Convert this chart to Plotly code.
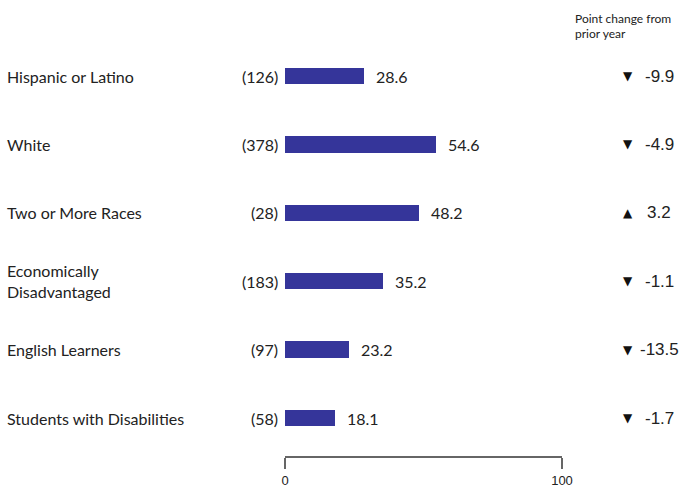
import plotly.graph_objects as go

categories = ["Hispanic or Latino", "White", "Two or More Races",
              "Economically<br>Disadvantaged", "English Learners", "Students with Disabilities"]
values = [28.6, 54.6, 48.2, 35.2, 23.2, 18.1]
counts = [126, 378, 28, 183, 97, 58]
changes = [-9.9, -4.9, 3.2, -1.1, -13.5, -1.7]
tick_vals = [0, 100]
tick_text = ["0", "100"]
header_lines = ["Point change from", "prior year"]

W, H = 680, 487
BAR = "#35359a"
TXT = "#222222"
FONT = "Lato"

fig = go.Figure()
fig.add_trace(go.Bar(
    y=categories, x=values, orientation="h",
    marker=dict(color=BAR, line=dict(width=0)),
    width=0.24, hoverinfo="skip",
))

ann = []
for c, v, n, d in zip(categories, values, counts, changes):
    ann.append(dict(xref="paper", yref="y", x=7 / W, y=c, text=c, showarrow=False,
                    xanchor="left", yanchor="middle", align="left", xshift=-2,
                    font=dict(family=FONT, size=16, color=TXT)))
    ann.append(dict(xref="x", yref="y", x=0, y=c, text=f"({n})", showarrow=False,
                    xanchor="right", yanchor="middle", xshift=-5,
                    font=dict(family=FONT, size=16, color=TXT)))
    ann.append(dict(xref="x", yref="y", x=v, y=c, text=f"{v:.1f}", showarrow=False,
                    xanchor="left", yanchor="middle", xshift=10,
                    font=dict(family=FONT, size=16, color=TXT)))
    ann.append(dict(xref="paper", yref="y", x=628 / W, y=c,
                    text="▲" if d > 0 else "▼", showarrow=False,
                    xanchor="center", yanchor="middle",
                    font=dict(family="DejaVu Sans", size=12, color="#111111")))
    ann.append(dict(xref="paper", yref="y", x=659 / W, y=c, text=f"{d:.1f}", showarrow=False,
                    xanchor="center", yanchor="middle",
                    font=dict(family="Liberation Sans", size=17, color=TXT)))

bottom = 456
for i, line in enumerate(header_lines):
    ann.append(dict(xref="paper", yref="paper", x=573 / W, y=1 - (18 + 15 * i) / bottom,
                    text=line, showarrow=False, xanchor="left", yanchor="middle",
                    font=dict(family=FONT, size=12, color=TXT)))

step = 68.4
top_c = 76
fig.update_layout(
    width=W, height=H, autosize=False, margin=dict(l=0, r=0, t=0, b=H - bottom, pad=0),
    plot_bgcolor="white", paper_bgcolor="white", showlegend=False,
    xaxis=dict(domain=[285 / W, 562 / W], range=[0, 100], showgrid=False, zeroline=False,
               showline=True, linecolor="#666666", linewidth=2, automargin=False,
               ticks="outside", ticklen=11, tickwidth=2, tickcolor="#666666",
               tickvals=tick_vals, ticktext=tick_text,
               tickfont=dict(family="Liberation Sans", size=13, color=TXT)),
    yaxis=dict(categoryorder="array", categoryarray=categories, automargin=False,
               range=[(bottom - top_c) / step, -top_c / step],
               showticklabels=False, showgrid=False, zeroline=False, showline=False),
    annotations=ann,
    bargap=0,
)
fig.write_html("out.html")
